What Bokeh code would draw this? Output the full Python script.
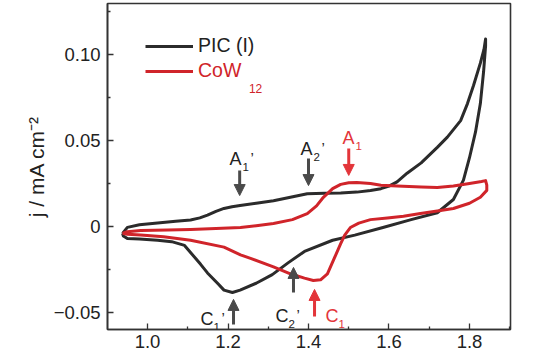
from bokeh.plotting import figure
from bokeh.models import (FixedTicker, Range1d, Legend, LegendItem, Label, Arrow, NormalHead)
from bokeh.embed import file_html
from bokeh.resources import INLINE

# ---------------- data ----------------
pic_fwd_v = [0.938, 0.95, 0.98, 1.025, 1.07, 1.107, 1.13, 1.149, 1.17, 1.19, 1.21, 1.23, 1.27, 1.313,
             1.355, 1.397, 1.44, 1.48, 1.52, 1.554, 1.58, 1.60, 1.62, 1.645, 1.68, 1.72, 1.745, 1.778,
             1.795, 1.81, 1.827, 1.836, 1.84]
pic_fwd_j = [-0.004, -0.0005, 0.001, 0.002, 0.003, 0.0038, 0.005, 0.0066, 0.0088, 0.0105, 0.0115, 0.0122,
             0.0135, 0.015, 0.017, 0.019, 0.0193, 0.0195, 0.020, 0.021, 0.022, 0.0235, 0.026, 0.031, 0.037,
             0.046, 0.052, 0.0616, 0.0715, 0.082, 0.095, 0.103, 0.109]
pic_rev_v = [1.84, 1.835, 1.827, 1.815, 1.80, 1.785, 1.76, 1.72, 1.655, 1.585, 1.515, 1.46, 1.39, 1.35,
             1.31, 1.27, 1.23, 1.211, 1.19, 1.174, 1.149, 1.132, 1.092, 1.06, 1.025, 0.98, 0.95, 0.94, 0.938]
pic_rev_j = [0.105, 0.09, 0.0715, 0.055, 0.04, 0.027, 0.0157, 0.008, 0.004, -0.0006, -0.005, -0.008,
             -0.0145, -0.021, -0.028, -0.033, -0.037, -0.0384, -0.037, -0.033, -0.027, -0.022, -0.011,
             -0.0088, -0.008, -0.0072, -0.007, -0.0055, -0.004]

cow_fwd_v = [0.938, 0.95, 0.983, 1.05, 1.107, 1.17, 1.231, 1.27, 1.313, 1.36, 1.397, 1.42, 1.437, 1.46,
             1.48, 1.50, 1.52, 1.554, 1.58, 1.62, 1.68, 1.72, 1.76, 1.80, 1.83, 1.84, 1.843]
cow_fwd_j = [-0.004, -0.003, -0.0023, -0.002, -0.0017, -0.0012, -0.0006, 0.0005, 0.0017, 0.004, 0.0075,
             0.012, 0.017, 0.022, 0.0245, 0.0255, 0.0256, 0.025, 0.024, 0.0235, 0.023, 0.0227, 0.0235,
             0.025, 0.0262, 0.0267, 0.024]
cow_rev_v = [1.843, 1.827, 1.80, 1.76, 1.72, 1.678, 1.636, 1.596, 1.554, 1.525, 1.504, 1.49, 1.48, 1.465,
             1.447, 1.43, 1.412, 1.39, 1.355, 1.313, 1.256, 1.231, 1.19, 1.107, 1.04, 0.983, 0.95, 0.938]
cow_rev_j = [0.021, 0.017, 0.0135, 0.0105, 0.009, 0.0076, 0.006, 0.005, 0.004, 0.002, -0.0006, -0.005,
             -0.01, -0.018, -0.0275, -0.031, -0.0314, -0.030, -0.0275, -0.0235, -0.0185, -0.0165, -0.012,
             -0.008, -0.006, -0.005, -0.0045, -0.004]

x_ticks = [1.0, 1.2, 1.4, 1.6, 1.8]
x_tick_labels = ["1.0", "1.2", "1.4", "1.6", "1.8"]
x_minor = [0.9, 1.1, 1.3, 1.5, 1.7, 1.9]
y_ticks = [-0.05, 0.0, 0.05, 0.10]
y_tick_labels = ["\u22120.05", "0", "0.05", "0.10"]
y_minor = [-0.025, 0.025, 0.075, 0.125]

series_names = ["PIC (I)", "CoW"]

BLACK = "#2b2b2b"
RED = "#d0242a"
GREY = "#4a4a4a"
ARROW_RED = "#e3353a"
FONT = "Liberation Sans"

p = figure(width=540, height=356, output_backend="svg", toolbar_location=None,
           x_range=Range1d(0.9006, 1.9019), y_range=Range1d(-0.0599, 0.1297),
           min_border_left=107, min_border_right=30, min_border_top=3, min_border_bottom=27)
p.background_fill_color = "white"
p.border_fill_color = "white"
p.grid.visible = False
p.outline_line_color = "#333333"
p.outline_line_width = 1.6

r_pic = p.line(pic_fwd_v + pic_rev_v, pic_fwd_j + pic_rev_j, line_color=BLACK, line_width=3,
               line_join="round")
r_cow = p.line(cow_fwd_v + cow_rev_v, cow_fwd_j + cow_rev_j, line_color=RED, line_width=3,
               line_join="round")

for ax in (p.xaxis[0], p.yaxis[0]):
    ax.axis_line_color = "#333333"
    ax.axis_line_width = 1.6
    ax.major_tick_in = 6
    ax.major_tick_out = 0
    ax.minor_tick_in = 3
    ax.minor_tick_out = 0
    ax.major_tick_line_color = "#333333"
    ax.minor_tick_line_color = "#333333"
    ax.major_tick_line_width = 1.3
    ax.minor_tick_line_width = 1.3
    ax.major_label_text_font = FONT
    ax.major_label_text_font_size = "18.5px"
    ax.major_label_text_color = "#222222"

p.xaxis.ticker = FixedTicker(ticks=x_ticks, minor_ticks=x_minor)
p.xaxis.major_label_overrides = dict(zip(x_ticks, x_tick_labels))
p.xaxis.major_label_standoff = 5
p.yaxis.ticker = FixedTicker(ticks=y_ticks, minor_ticks=y_minor)
p.yaxis.major_label_overrides = dict(zip(y_ticks, y_tick_labels))
p.yaxis.major_label_standoff = 7
p.yaxis.axis_label = "j / mA cm\u207b\u00b2"
p.yaxis.axis_label_text_font = FONT
p.yaxis.axis_label_text_font_style = "normal"
p.yaxis.axis_label_text_font_size = "21px"
p.yaxis.axis_label_text_color = "#222222"
p.yaxis.axis_label_standoff = 3

# legends (two, so that each text has its own colour)
for name, rend, col, loc in [(series_names[0], r_pic, "#222222", (38, 272)),
                             (series_names[1], r_cow, RED, (38, 247))]:
    lg = Legend(items=[LegendItem(label=name, renderers=[rend])], location=loc,
                padding=0, margin=0, spacing=0, border_line_color=None,
                background_fill_alpha=0, glyph_width=48, glyph_height=20,
                label_standoff=5, label_text_font=FONT, label_text_font_size="19.5px",
                label_text_color=col, label_height=20)
    p.add_layout(lg)
p.add_layout(Label(x=1.252, y=0.0805, text="12", text_font=FONT, text_font_size="12px",
                   text_color=RED, text_baseline="alphabetic"))

# peak annotations: (x, y of main letter baseline, letter, subscript, prime, colour)
ann = [
    (1.2037, 0.039, "A", "1", True, "#222222"),
    (1.380, 0.0448, "A", "2", True, "#222222"),
    (1.4845, 0.0517, "A", "1", False, ARROW_RED),
    (1.1317, -0.054, "C", "1", True, "#222222"),
    (1.318, -0.0523, "C", "2", True, "#222222"),
    (1.442, -0.0523, "C", "1", False, ARROW_RED),
]
for x, y, letter, sub, prime, col in ann:
    p.add_layout(Label(x=x, y=y, text=letter, text_font=FONT, text_font_size="18px",
                       text_color=col, text_baseline="alphabetic"))
    p.add_layout(Label(x=x, y=y, x_offset=13, y_offset=-8, text=sub, text_font=FONT,
                       text_font_size="11.5px", text_color=col, text_baseline="alphabetic"))
    if prime:
        p.add_layout(Label(x=x, y=y, x_offset=21, y_offset=2, text="\u2019", text_font=FONT,
                           text_font_size="15px", text_color=col, text_baseline="alphabetic"))

# arrows: (x, tail y, tip y, colour)
arrows = [
    (1.229, 0.0326, 0.018, GREY),
    (1.400, 0.0395, 0.0238, GREY),
    (1.500, 0.0453, 0.0297, ARROW_RED),
    (1.2137, -0.057, -0.0424, GREY),
    (1.3627, -0.0384, -0.0238, GREY),
    (1.415, -0.0523, -0.0366, ARROW_RED),
]
for x, y0, y1, col in arrows:
    p.add_layout(Arrow(x_start=x, y_start=y0, x_end=x, y_end=y1, line_color=col, line_width=3,
                       end=NormalHead(size=11, fill_color=col, line_color=col, line_width=1)))

open("out.html", "w").write(file_html(p, INLINE))
